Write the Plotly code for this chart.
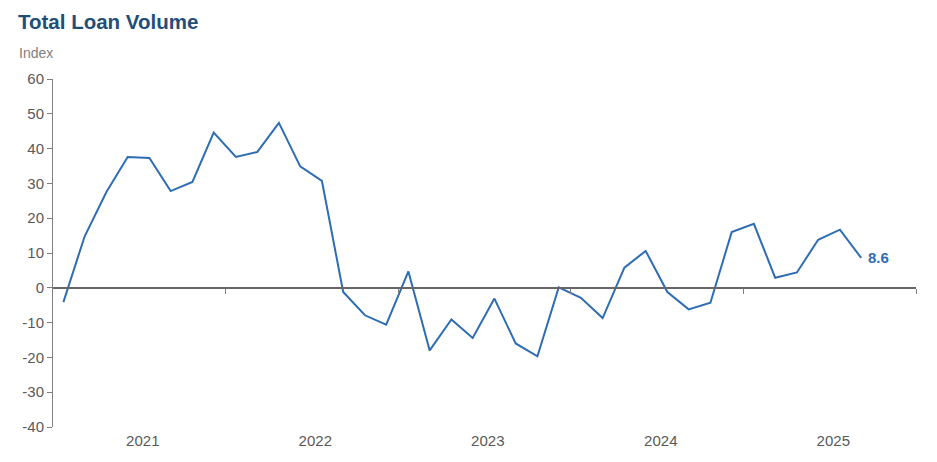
import plotly.graph_objects as go

years = [2021, 2022, 2023, 2024, 2025]
survey_days = ["01-23", "03-09", "04-24", "06-08", "07-24", "09-07", "10-23", "12-07"]
dates = [f"{y}-{d}" for y in years for d in survey_days][:38]

values = [-4.1, 14.8, 27.5, 37.6, 37.3, 27.8, 30.4, 44.6,
          37.6, 39.0, 47.4, 34.9, 30.7, -1.2, -7.9, -10.6,
          4.7, -18.0, -9.1, -14.4, -3.1, -16.0, -19.7, 0.1,
          -2.9, -8.7, 5.8, 10.6, -1.2, -6.2, -4.3, 16.0,
          18.4, 2.9, 4.4, 13.8, 16.7, 8.6]

year_labels = ["2021", "2022", "2023", "2024", "2025"]
label_pos = ["2021-07-10", "2022-07-10", "2023-07-10", "2024-07-10", "2025-07-10"]
year_bounds = ["2022-01-01", "2023-01-01", "2024-01-01", "2025-01-01", "2026-01-01"]
y_ticks = [-40, -30, -20, -10, 0, 10, 20, 30, 40, 50, 60]
y_tick_text = ["-40", "-30", "-20", "-10", "0", "10", "20", "30", "40", "50", "60"]

line_color = "#2E6DB4"
gray = "#595959"
font_fam = "Arial, Liberation Sans, sans-serif"

# page body has an 8px default margin; size the figure to sit inside the window
W, H = 929, 454
L, T = 45, 71
PW, PH = 863, 348

fig = go.Figure()
fig.add_trace(go.Scatter(x=dates, y=values, mode="lines",
                         line=dict(color=line_color, width=2),
                         hoverinfo="x+y", showlegend=False))
fig.add_trace(go.Scatter(x=[dates[0]], y=[0], xaxis="x2", mode="markers",
                         marker=dict(opacity=0), hoverinfo="skip", showlegend=False))

x_range = ["2021-01-01", "2026-01-01"]
fig.update_layout(
    width=W, height=H,
    margin=dict(l=L, r=W - L - PW, t=T, b=H - T - PH),
    plot_bgcolor="white", paper_bgcolor="white",
    font=dict(family=font_fam, color=gray, size=15),
    title=dict(text="<b>Total Loan Volume</b>", xref="container", x=10/W, xanchor="left",
               yref="container", y=1-14/H, yanchor="middle",
               font=dict(size=20.5, color="#1F4E79", family=font_fam)),
    xaxis=dict(type="date", range=x_range, tickvals=label_pos, ticktext=year_labels,
               showgrid=False, showline=False, ticks="", zeroline=False,
               ticklabelstandoff=3, tickfont=dict(size=15, color=gray)),
    xaxis2=dict(type="date", range=x_range, overlaying="x", anchor="free", position=0.4,
                side="bottom", tickvals=year_bounds, ticks="outside", ticklen=5,
                tickcolor="#808080", tickwidth=1, showticklabels=False,
                showline=True, linecolor="#666666", linewidth=1.5,
                showgrid=False, zeroline=False),
    yaxis=dict(range=[-40, 60], tickvals=y_ticks, ticktext=y_tick_text,
               showgrid=False, zeroline=False,
               showline=True, linecolor="#808080", linewidth=1, ticks="outside",
               ticklen=5, tickcolor="#808080", tickfont=dict(size=15, color=gray)),
    annotations=[
        dict(text="Index", xref="paper", yref="paper", x=-36/PW, y=1+26/PH,
             xanchor="left", yanchor="middle", showarrow=False,
             font=dict(size=14, color="#808080", family=font_fam)),
        dict(text="<b>%.1f</b>" % values[-1], x=dates[-1], y=values[-1], xref="x", yref="y",
             xanchor="left", yanchor="middle", xshift=5, showarrow=False,
             font=dict(size=15, color=line_color, family=font_fam)),
    ],
)

fig.write_html("out.html")
